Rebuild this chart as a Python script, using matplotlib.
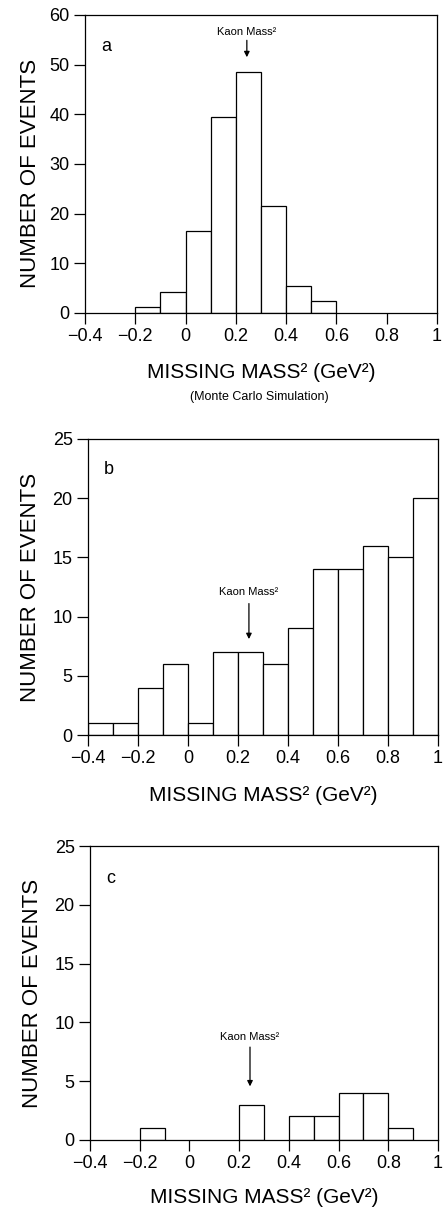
import numpy as np
import matplotlib
matplotlib.use('Agg')
from matplotlib import pyplot as plt

plt.rcParams['font.family'] = ['Liberation Sans', 'DejaVu Sans']

# bin edges shared by all three histograms (width 0.1 GeV^2)
edges = np.round(np.arange(-0.4, 1.0001, 0.1), 2)

# (a) Monte Carlo simulation
counts_a = [0, 0, 1.2, 4.2, 16.5, 39.5, 48.5, 21.5, 5.5, 2.5, 0, 0, 0, 0]
# (b) data
counts_b = [1, 1, 4, 6, 1, 7, 7, 6, 9, 14, 14, 16, 15, 20]
# (c) data
counts_c = [0, 0, 1, 0, 0, 0, 3, 0, 2, 2, 4, 4, 1, 0]

kaon_mass_sq = 0.2437
xticks = [-0.4, -0.2, 0, 0.2, 0.4, 0.6, 0.8, 1.0]
xticklabels = ['\u22120.4', '\u22120.2', '0', '0.2', '0.4', '0.6', '0.8', '1']

W, H = 443, 1214
fig = plt.figure(figsize=(W / 100, H / 100), dpi=100)


def px_axes(left, right, top, bottom):
    return fig.add_axes([left / W, 1 - bottom / H, (right - left) / W, (bottom - top) / H])


def panel(ax, counts, ymax, ystep, letter, letter_y, arrow, xlab_y, ylab_x, ylab_y=0.5):
    for lo, hi, c in zip(edges[:-1], edges[1:], counts):
        if c > 0:
            ax.bar(lo, c, width=hi - lo, align='edge', facecolor='white',
                   edgecolor='black', linewidth=0.9)
    ax.set_xlim(-0.4, 1.0)
    ax.set_ylim(0, ymax)
    ax.set_xticks(xticks)
    ax.set_xticklabels(xticklabels)
    ax.set_yticks(np.arange(0, ymax + 0.1, ystep))
    ax.tick_params(direction='out', length=8, width=0.9, labelsize=13, pad=3)
    for s in ax.spines.values():
        s.set_linewidth(0.9)
    ax.text(-0.315, letter_y, letter, fontsize=13, ha='center', va='center')
    y_text, y_tail, y_head = arrow
    ax.text(kaon_mass_sq, y_text, 'Kaon Mass\u00b2', fontsize=8, ha='center', va='center')
    ax.annotate('', xy=(kaon_mass_sq, y_head), xytext=(kaon_mass_sq, y_tail),
                arrowprops=dict(arrowstyle='-|>', color='black', lw=0.9,
                                mutation_scale=8, shrinkA=0, shrinkB=0))
    ax.set_xlabel('MISSING MASS\u00b2 (GeV\u00b2)', fontsize=15)
    ax.xaxis.set_label_coords(0.5, xlab_y)
    ax.xaxis.label.set_va('center')
    ax.set_ylabel('NUMBER OF EVENTS', fontsize=16)
    ax.yaxis.set_label_coords(ylab_x, ylab_y)
    ax.yaxis.label.set_va('center')


ax_a = px_axes(85, 437, 15, 313)
panel(ax_a, counts_a, 60, 10, 'a', 53.6, (56.5, 54.9, 51.5), -0.201, -0.156, 0.47)
ax_a.text(0.496, -0.282, '(Monte Carlo Simulation)', fontsize=9,
          ha='center', va='center', transform=ax_a.transAxes)

ax_b = px_axes(88, 438, 439, 735)
panel(ax_b, counts_b, 25, 5, 'b', 22.4, (12.05, 11.1, 8.1), -0.203, -0.164)

ax_c = px_axes(90, 438, 846, 1140)
panel(ax_c, counts_c, 25, 5, 'c', 22.2, (8.8, 7.9, 4.56), -0.194, -0.166)

fig.savefig('out.png', dpi=100)
